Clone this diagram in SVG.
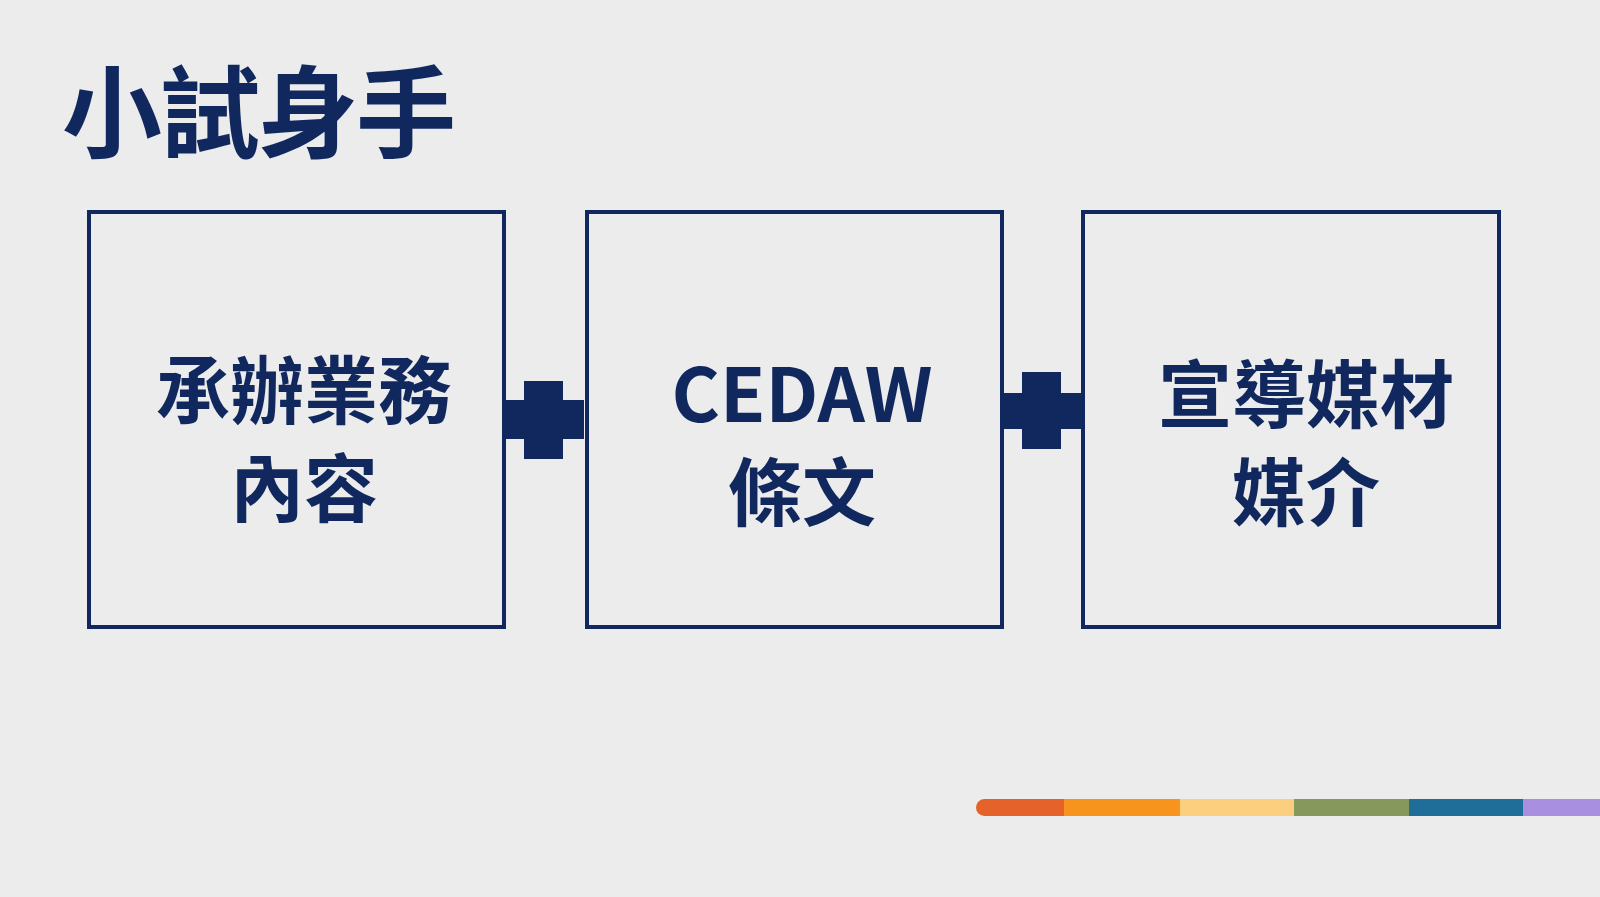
<svg xmlns="http://www.w3.org/2000/svg" width="1600" height="897" viewBox="0 0 1600 897">
<style>
.box{fill:none;stroke:#10285e;stroke-width:4}
.t{font-family:"Noto Sans CJK TC","Noto Sans",sans-serif;font-weight:bold;fill:#10285e;text-anchor:middle}
.lbl{font-size:74px}
.c{fill:#10285e}
</style>
<rect width="1600" height="897" fill="#ececec"/>
<text class="t" x="258" y="150" font-size="100" letter-spacing="-2">小試身手</text>
<g id="connectors">
<rect class="c" x="504" y="400" width="80" height="39"/>
<rect class="c" x="524" y="381" width="39" height="78"/>
<rect class="c" x="1002" y="393" width="82" height="36"/>
<rect class="c" x="1022" y="372" width="39" height="77"/>
</g>
<g id="n1"><rect class="box" x="89" y="212" width="415" height="415"/>
<text class="t lbl" x="304" y="418">承辦業務</text><text class="t lbl" x="304" y="516">內容</text></g>
<g id="n2"><rect class="box" x="587" y="212" width="415" height="415"/>
<text class="t lbl" x="802" y="422" font-family="'Open Sans',sans-serif">CEDAW</text><text class="t lbl" x="802" y="520">條文</text></g>
<g id="n3"><rect class="box" x="1083" y="212" width="416" height="415"/>
<text class="t lbl" x="1306" y="422">宣導媒材</text><text class="t lbl" x="1306" y="520">媒介</text></g>
<g id="bar">
<rect x="976" y="799" width="100" height="17" rx="8.5" fill="#e5632a"/>
<rect x="1064" y="799" width="116" height="17" fill="#f7941d"/>
<rect x="1180" y="799" width="114" height="17" fill="#fbcf7e"/>
<rect x="1294" y="799" width="115" height="17" fill="#86985c"/>
<rect x="1409" y="799" width="114" height="17" fill="#1f6e9a"/>
<rect x="1523" y="799" width="77" height="17" fill="#a98fe0"/>
</g>
</svg>
